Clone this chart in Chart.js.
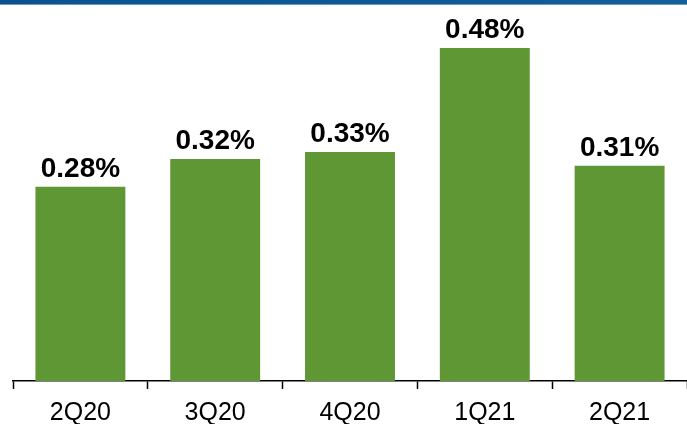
<!DOCTYPE html>
<html>
<head>
<meta charset="utf-8">
<script src="https://cdn.jsdelivr.net/npm/chart.js@4"></script>
<style>
  html, body { margin: 0; padding: 0; background: #ffffff; }
  #wrap { width: 687px; height: 424px; position: relative; }
</style>
</head>
<body>
<div id="wrap"><canvas id="chart"></canvas></div>
<script>
// Quarterly ratio, in percent
const quarters = ['2Q20', '3Q20', '4Q20', '1Q21', '2Q21'];
const ratioValues = [0.28, 0.32, 0.33, 0.48, 0.31];

const FONT = "'Liberation Sans', Arial, Helvetica, sans-serif";
const BAR_GREEN = '#5e9734';

// Blue rule across the top of the slide
const headerRule = {
  id: 'headerRule',
  beforeDraw(chart) {
    const { ctx, width } = chart;
    ctx.save();
    const g = ctx.createLinearGradient(0, 0, width, 0);
    g.addColorStop(0, '#0b528c');
    g.addColorStop(1, '#135f98');
    ctx.fillStyle = g;
    ctx.fillRect(0, 0, width, 4);
    ctx.fillStyle = '#6b9cc4';
    ctx.fillRect(0, 4, width, 1);
    ctx.restore();
  }
};

// Value labels above each bar
const valueLabels = {
  id: 'valueLabels',
  afterDatasetsDraw(chart) {
    const { ctx } = chart;
    const meta = chart.getDatasetMeta(0);
    const data = chart.data.datasets[0].data;
    ctx.save();
    ctx.font = 'bold 28px ' + FONT;
    ctx.fillStyle = '#000000';
    ctx.textAlign = 'center';
    ctx.textBaseline = 'alphabetic';
    meta.data.forEach((bar, i) => {
      ctx.fillText(data[i].toFixed(2) + '%', bar.x, bar.y - 10);
    });
    ctx.restore();
  }
};

new Chart(document.getElementById('chart'), {
  type: 'bar',
  data: {
    labels: quarters,
    datasets: [{
      data: ratioValues,
      backgroundColor: BAR_GREEN,
      borderWidth: 0,
      barPercentage: 0.667,
      categoryPercentage: 1.0
    }]
  },
  options: {
    responsive: true,
    maintainAspectRatio: false,
    animation: false,
    layout: { padding: { top: 34, left: 13, right: 0, bottom: 0 } },
    plugins: {
      legend: { display: false },
      tooltip: { enabled: false }
    },
    scales: {
      x: {
        offset: true,
        afterFit(scale) { scale.height = 43; },
        grid: {
          display: true,
          offset: true,
          drawOnChartArea: false,
          drawTicks: true,
          tickLength: 8,
          tickWidth: 1.5,
          tickColor: '#000000'
        },
        border: { display: true, color: '#000000', width: 1.5 },
        ticks: {
          color: '#000000',
          padding: 12,
          font: { family: FONT, size: 25, lineHeight: 1.0 }
        }
      },
      y: {
        display: false,
        min: 0,
        max: 0.5
      }
    }
  },
  plugins: [headerRule, valueLabels]
});
</script>
</body>
</html>
